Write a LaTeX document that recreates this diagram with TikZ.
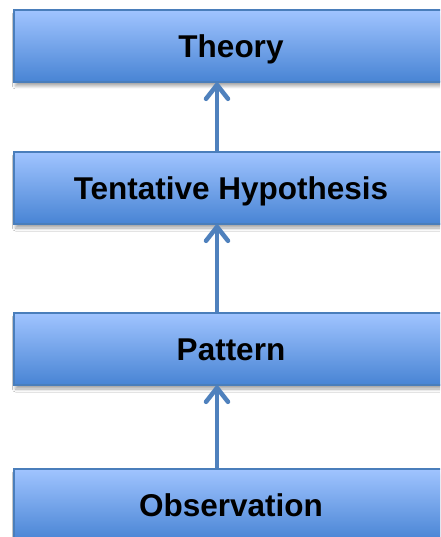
\documentclass[tikz,border=0pt]{standalone}
\usepackage{fontspec}
\setmainfont{Liberation Sans}
\usetikzlibrary{arrows.meta,calc,shadows.blur}
\definecolor{boxtop}{RGB}{160,196,255}
\definecolor{boxbot}{RGB}{72,132,212}
\definecolor{boxline}{RGB}{74,126,187}
\definecolor{arrcol}{RGB}{79,129,189}
\tikzset{
  box/.style={rectangle, draw=boxline, line width=1.2pt, top color=boxtop, bottom color=boxbot,
    minimum width=434pt, minimum height=72pt, inner sep=0pt, text height=22.6pt, text depth=0pt,
    font=\fontsize{31.5}{36}\selectfont\bfseries, text=black,
    blur shadow={shadow xshift=1.5pt, shadow yshift=-4pt, shadow blur steps=6, shadow blur radius=3pt, shadow opacity=35}},
  arr/.style={draw=arrcol, line width=4.5pt, -{Straight Barb[round, length=14pt, width=22pt]}}
}
\begin{document}
\begin{tikzpicture}[x=1pt,y=-1pt]
\useasboundingbox (0,0) rectangle (440,537);
\fill[white] (0,0) rectangle (440,537);
\clip (0,0) rectangle (440,537);
\node[box] (theory) at (231,46) {Theory};
\node[box] (hyp) at (231,188) {Tentative Hypothesis};
\node[box] (pattern) at (231,349) {Pattern};
\node[box] (obs) at (231,505) {Observation};
\draw[arr] ($(hyp.north)+(-14,0)$) -- ($(theory.south)+(-14,0)$);
\draw[arr] ($(pattern.north)+(-14,0)$) -- ($(hyp.south)+(-14,0)$);
\draw[arr] ($(obs.north)+(-14,0)$) -- ($(pattern.south)+(-14,0)$);
\end{tikzpicture}
\end{document}
